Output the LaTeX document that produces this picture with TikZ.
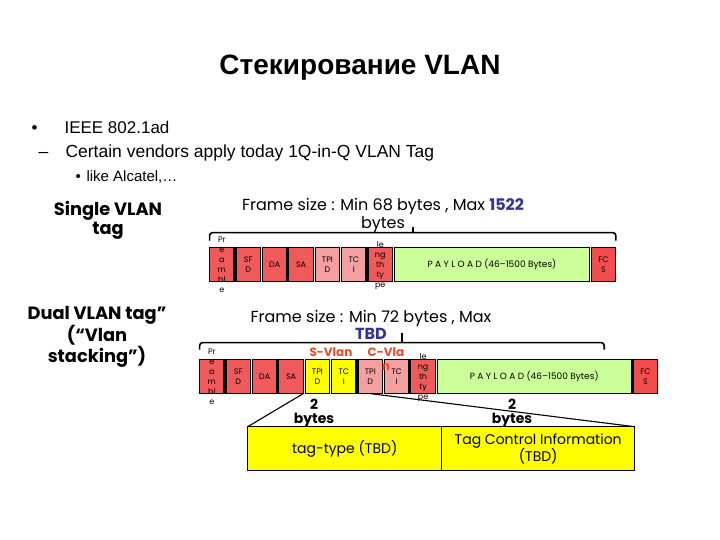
\documentclass[tikz,border=0pt]{standalone}
\usepackage{fontspec}
\setmainfont{Liberation Sans}
\newfontfamily\pop{Poppins}
\usepackage{xcolor}
\usetikzlibrary{positioning,calc}

\definecolor{cellred}{RGB}{240,90,90}
\definecolor{fcsred}{RGB}{242,78,78}
\definecolor{cellpink}{RGB}{245,160,160}
\definecolor{paygreen}{RGB}{204,255,153}
\definecolor{tagyellow}{RGB}{255,255,0}
\definecolor{tbdblue}{RGB}{51,51,153}
\definecolor{vlanred}{RGB}{232,76,44}

\begin{document}
\begin{tikzpicture}[
  x=1pt, y=-1pt,
  node distance=1.9pt,
  cell/.style={rectangle, draw, line width=1.3pt, minimum width=24.5pt,
               minimum height=34pt, inner sep=0pt, outer sep=0pt,
               align=center, font=\pop\fontsize{8}{10}\selectfont},
  field/.style={cell, fill=cellred},
  qtag/.style={cell, fill=cellpink},
  stag/.style={cell, fill=tagyellow},
  data/.style={cell, fill=paygreen, font=\pop\fontsize{9}{11}\selectfont},
  crc/.style={cell, fill=fcsred},
  spill/.style={font=\pop\fontsize{8}{10}\selectfont, align=center, inner sep=0pt},
  ftext/.style={font=\pop\fontsize{16}{18}\selectfont, align=center},
  side/.style={font=\pop\bfseries\fontsize{17.8}{19}\selectfont, align=center},
  vlantag/.style={font=\pop\bfseries\fontsize{12}{14}\selectfont, align=center,
                  text=vlanred, inner sep=0pt},
  bytes/.style={font=\pop\bfseries\fontsize{14}{14}\selectfont, align=center,
                inner sep=0pt},
  tagbox/.style={rectangle, draw, line width=1.5pt, fill=tagyellow,
                 minimum height=44pt, inner sep=0pt, outer sep=0pt,
                 align=center, font=\pop\fontsize{14}{17}\selectfont},
  brk/.style={line width=1.6pt, rounded corners=3pt},
  link/.style={line width=1.1pt},
]
\useasboundingbox (0,0) rectangle (720,540);

% Title and bullets
\node[font=\bfseries\fontsize{28}{32}\selectfont] (title) at (360,68) {Стекирование VLAN};
\node[anchor=base west, font=\fontsize{17}{20}\selectfont] (bl1) at (28,134) {•};
\node[anchor=base west, font=\fontsize{17}{20}\selectfont] (b1) at (61,134) {IEEE 802.1ad};
\node[anchor=base west, font=\fontsize{17.5}{20}\selectfont] (bl2) at (35,158) {–};
\node[anchor=base west, font=\fontsize{17.5}{20}\selectfont] (b2) at (62,158) {Certain vendors apply today 1Q-in-Q VLAN Tag};
\node[anchor=base west, font=\fontsize{15}{18}\selectfont] (bl3) at (72,182) {•};
\node[anchor=base west, font=\fontsize{15}{18}\selectfont] (b3) at (83,182) {like Alcatel,…};

% Single tag frame
\node[side] (single) at (108,220) {Single VLAN\\tag};
\node[ftext] (size1) at (383,215) {Frame size : Min 68 bytes , Max {\bfseries\color{tbdblue}1522}\\bytes};
\node[field, anchor=north west, label={[spill]center:Pr\\e\\a\\m\\bl\\e}] (pre1) at (209.6,247.6) {};
\node[field, right=of pre1] (sfd1) {SF\\D};
\node[field, right=of sfd1] (da1) {DA};
\node[field, right=of da1] (sa1) {SA};
\node[qtag, right=of sa1] (tpid1) {TPI\\D};
\node[qtag, right=of tpid1] (tci1) {TC\\I};
\node[field, right=of tci1, label={[spill, yshift=-1pt]center:le\\ng\\th\\ty\\pe}] (len1) {};
\node[data, minimum width=195pt, right=of len1] (pay1) {P A Y L O A D (46–1500 Bytes)};
\node[crc, right=of pay1] (fcs1) {FC\\S};
\draw[brk] ([yshift=7pt]pre1.north west) -- ++(0,-8) -| ([yshift=7pt]fcs1.north east);
\draw[brk, rounded corners=0pt] ($([yshift=15pt]pre1.north west)!0.5!([yshift=15pt]fcs1.north east)$) -- ++(0,-6);

% Dual tag frame
\node[side] (dual) at (97,337) {Dual VLAN tag”\\(“Vlan\\stacking”)};
\node[ftext, font=\pop\fontsize{16}{17}\selectfont] (size2) at (371,325) {Frame size : Min 72 bytes , Max\\{\bfseries\color{tbdblue}TBD}};
\node[field, anchor=north west, label={[spill]center:Pr\\e\\a\\m\\bl\\e}] (pre2) at (199.6,359.6) {};
\node[field, right=of pre2] (sfd2) {SF\\D};
\node[field, right=of sfd2] (da2) {DA};
\node[field, right=of da2] (sa2) {SA};
\node[stag, right=of sa2] (stpid) {TPI\\D};
\node[stag, right=of stpid] (stci) {TC\\I};
\node[qtag, right=of stci] (ctpid) {TPI\\D};
\node[qtag, right=of ctpid] (ctci) {TC\\I};
\node[field, right=of ctci, label={[spill, yshift=-1pt]center:le\\ng\\th\\ty\\pe}] (len2) {};
\node[data, minimum width=194pt, right=of len2] (pay2) {P A Y L O A D (46–1500 Bytes)};
\node[crc, right=of pay2] (fcs2) {FC\\S};
\draw[brk] ([yshift=10pt]pre2.north west) -- ++(0,-7) -| ([shift={(-27pt,10pt)}]pay2.north east);
\draw[brk, rounded corners=0pt] ($([yshift=17pt]pre2.north west)!0.5!([shift={(-27pt,17pt)}]pay2.north east)$) -- ++(0,-10);
\node[vlantag] (slbl) at (331,352) {S-Vlan};
\node[vlantag] (clbl) at (386,359) {C-Vla\\n};

% Tag detail
\node[tagbox, minimum width=194pt, anchor=north west] (tagtype) at (247.7,426.7) {tag-type (TBD)};
\node[tagbox, minimum width=193pt, right=0pt of tagtype] (tagci) {Tag Control Information\\(TBD)};
\draw[link] (sa2.south east) -- (tagtype.north west);
\draw[link] (ctpid.south) -- (tagci.north east);
\node[bytes] (by1) at (314,413) {2\\bytes};
\node[bytes] (by2) at (512,413) {2\\bytes};

\end{tikzpicture}
\end{document}
